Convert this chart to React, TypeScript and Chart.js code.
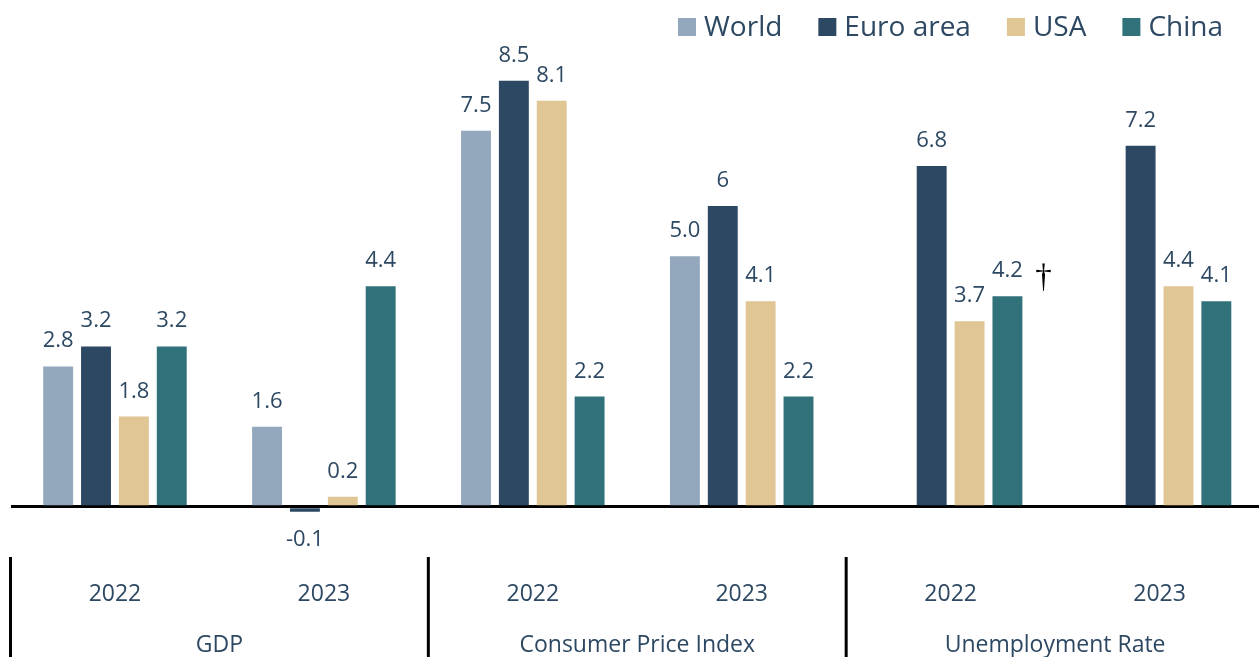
import React, { useEffect, useRef } from 'react';
import { Chart, registerables } from 'chart.js';

Chart.register(...registerables);

// ---- Data ----
const categories = ['2022', '2023', '2022', '2023', '2022', '2023'];
const groupNames = ['GDP', 'Consumer Price Index', 'Unemployment Rate'];

const seriesNames = ['World', 'Euro area', 'USA', 'China'];
const seriesColors = ['#93a8bc', '#2d4862', '#e0c595', '#31727a'];

const worldValues = [2.8, 1.6, 7.5, 5.0, null, null];
const euroValues = [3.2, -0.1, 8.5, 6, 6.8, 7.2];
const usaValues = [1.8, 0.2, 8.1, 4.1, 3.7, 4.4];
const chinaValues = [3.2, 4.4, 2.2, 2.2, 4.2, 4.1];

const worldLabels = ['2.8', '1.6', '7.5', '5.0', '', ''];
const euroLabels = ['3.2', '-0.1', '8.5', '6', '6.8', '7.2'];
const usaLabels = ['1.8', '0.2', '8.1', '4.1', '3.7', '4.4'];
const chinaLabels = ['3.2', '4.4', '2.2', '2.2', '4.2', '4.1'];

const chinaNotes = ['', '', '', '', '†', ''];

const yMin = -1;
const yMax = 9;

const seriesValues = [worldValues, euroValues, usaValues, chinaValues];
const seriesLabels = [worldLabels, euroLabels, usaLabels, chinaLabels];
const seriesNotes = [null, null, null, chinaNotes];

const TEXT = '#2d4862';
const VISIBLE_WIDTH = 1259;

const overlayPlugin = {
  id: 'overlay',
  afterDatasetsDraw(chart: any) {
    const { ctx, scales } = chart;
    const x = scales.x;
    ctx.save();

    // value labels
    ctx.font = "22px 'Open Sans'";
    ctx.fillStyle = TEXT;
    ctx.textAlign = 'center';
    ctx.textBaseline = 'alphabetic';
    chart.data.datasets.forEach((ds: any, di: number) => {
      const meta = chart.getDatasetMeta(di);
      const labels = seriesLabels[di];
      meta.data.forEach((el: any, i: number) => {
        const v = ds.data[i];
        if (v == null) return;
        const yy = v >= 0 ? el.y - 19 : el.y + 34;
        ctx.fillText(labels[i], el.x, yy);
      });
    });

    // footnote marks
    chart.data.datasets.forEach((ds: any, di: number) => {
      const notes = seriesNotes[di];
      if (!notes) return;
      const meta = chart.getDatasetMeta(di);
      meta.data.forEach((el: any, i: number) => {
        if (!notes[i]) return;
        ctx.font = "33px 'Liberation Serif'";
        ctx.fillStyle = '#000000';
        ctx.textAlign = 'center';
        ctx.fillText(notes[i], el.x + 36, el.y - 9);
      });
    });

    // category axis
    const step = x.getPixelForValue(1) - x.getPixelForValue(0);
    ctx.fillStyle = TEXT;
    ctx.textAlign = 'center';
    ctx.font = "23px 'Open Sans'";
    categories.forEach((c, i) => {
      ctx.fillText(c, x.getPixelForValue(i), 601);
    });
    groupNames.forEach((g, gi) => {
      const cx = (x.getPixelForValue(gi * 2) + x.getPixelForValue(gi * 2 + 1)) / 2;
      ctx.fillText(g, cx, 652);
    });

    // separators
    ctx.strokeStyle = '#000000';
    ctx.lineWidth = 3;
    for (let i = 0; i <= categories.length; i += 2) {
      const bx = x.getPixelForValue(i) - step / 2;
      ctx.beginPath();
      ctx.moveTo(bx, 557);
      ctx.lineTo(bx, 657);
      ctx.stroke();
    }

    // legend (right aligned)
    ctx.font = "28px 'Open Sans'";
    ctx.textAlign = 'left';
    const box = 18;
    const boxGap = 8;
    const itemGap = 36;
    const widths = seriesNames.map((n) => ctx.measureText(n).width);
    let total = 0;
    widths.forEach((w, i) => {
      total += box + boxGap + w + (i < widths.length - 1 ? itemGap : 0);
    });
    let lx = 1223 - total;
    seriesNames.forEach((n, i) => {
      ctx.fillStyle = seriesColors[i];
      ctx.fillRect(lx, 18, box, box);
      ctx.fillStyle = TEXT;
      ctx.fillText(n, lx + box + boxGap, 36);
      lx += box + boxGap + widths[i] + itemGap;
    });

    ctx.restore();
  },
};

export default function App() {
  const canvasRef = useRef<HTMLCanvasElement | null>(null);

  useEffect(() => {
    const canvas = canvasRef.current;
    if (!canvas) return;
    const chart = new Chart(canvas, {
      type: 'bar',
      data: {
        labels: categories,
        datasets: seriesNames.map((name, i) => ({
          label: name,
          data: seriesValues[i] as any,
          backgroundColor: seriesColors[i],
          borderWidth: 0,
          categoryPercentage: 0.725,
          barPercentage: 0.79,
        })),
      },
      options: {
        responsive: false,
        animation: false,
        devicePixelRatio: 1,
        layout: { padding: { top: 55.6, bottom: 100, left: 10.5, right: 0 } },
        plugins: {
          legend: { display: false },
          tooltip: { enabled: false },
        },
        scales: {
          x: { display: false },
          y: {
            min: yMin,
            max: yMax,
            display: true,
            ticks: { display: false, stepSize: 1 },
            border: { display: false },
            grid: {
              drawTicks: false,
              lineWidth: 3,
              color: (c: any) => (c.tick && c.tick.value === 0 ? '#000000' : 'rgba(0,0,0,0)'),
            },
          },
        },
      },
      plugins: [overlayPlugin],
    });
    return () => chart.destroy();
  }, []);

  return (
    <div
      style={{
        position: 'absolute',
        left: 0,
        top: 0,
        width: VISIBLE_WIDTH,
        height: 657,
        overflow: 'hidden',
        background: '#ffffff',
      }}
    >
      <canvas ref={canvasRef} width={1264} height={657} style={{ display: 'block' }} />
    </div>
  );
}
